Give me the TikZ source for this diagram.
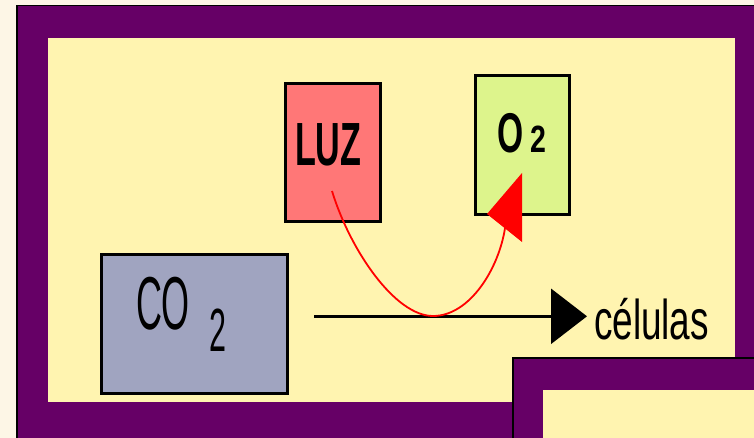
\documentclass[tikz,border=0pt]{standalone}
\usepackage{fontspec}
\setmainfont{Liberation Sans}
\usepackage{graphicx}
\usetikzlibrary{arrows.meta}
\definecolor{cream}{HTML}{FDF6E6}
\definecolor{frame}{HTML}{660066}
\definecolor{pale}{HTML}{FFF4B0}
\definecolor{luzc}{HTML}{FF7777}
\definecolor{o2c}{HTML}{DDF48C}
\definecolor{co2c}{HTML}{A0A4C0}
\begin{document}
\begin{tikzpicture}[x=1pt,y=-1pt,
  box/.style={draw=black,line width=3pt,inner sep=0pt,rectangle},
  txt/.style={anchor=base west,inner sep=0pt,outer sep=0pt,text=black},
  conn/.style={line width=2.5pt,black,-{Triangle[length=36pt,width=55pt]}},
  redconn/.style={line width=1.8pt,red}]
\useasboundingbox (0,0) rectangle (754,438);
\fill[cream] (0,0) rectangle (754,438);
% outer frame
\fill[black] (16,5) rectangle (754,438);
\fill[frame] (17.5,6.5) rectangle (754,438);
\fill[pale] (48,38) rectangle (735,401.7);
% second frame bottom right
\fill[black] (512,357) rectangle (754,438);
\fill[frame] (514,359) rectangle (754,438);
\fill[pale] (543,390) rectangle (754,438);
% boxes
\node[box,fill=luzc,minimum width=95pt,minimum height=138pt] (luz) at (333,152.5) {};
\node[box,fill=o2c,minimum width=94pt,minimum height=139pt] (o2) at (522.5,145) {};
\node[box,fill=co2c,minimum width=186pt,minimum height=139pt] (co2) at (194.5,324) {};
% texts
\node[txt] (luzt) at (295,166) {\fontsize{61}{61}\selectfont\bfseries\scalebox{0.56}[1]{LUZ}};
\node[txt] (o2o) at (497,153) {\fontsize{56}{56}\selectfont\bfseries\scalebox{0.6}[1]{O}};
\node[txt] (o2two) at (530,153) {\fontsize{38}{38}\selectfont\bfseries\scalebox{0.75}[1]{2}};
\node[txt] (coT) at (136,329) {\fontsize{75}{75}\selectfont\scalebox{0.48}[1]{CO}};
\node[txt] (coTwo) at (209,351) {\fontsize{61}{61}\selectfont\scalebox{0.5}[1]{2}};
\node[txt] (cel) at (594,339) {\fontsize{56}{56}\selectfont\scalebox{0.66}[1]{células}};
% black arrow
\coordinate (a1) at (314,316.3);
\coordinate (a2) at (587,316.3);
\draw[conn] (a1) -- (a2);
% red curve
\coordinate (r1) at (332,191);
\coordinate (rb) at (433,316);
\coordinate (r2) at (505,228);
\draw[redconn] (r1) .. controls (350,250) and (395,316) .. (rb)
  .. controls (470,316) and (499,268) .. (r2);
\fill[red] (487,214) -- (522,173) -- (522,242) -- cycle;
\end{tikzpicture}
\end{document}
